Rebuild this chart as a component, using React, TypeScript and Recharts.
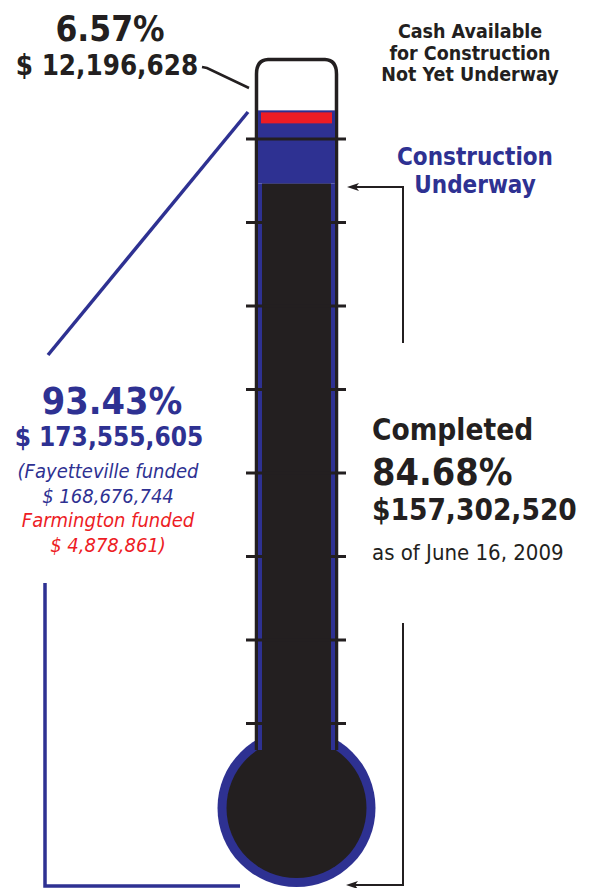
import React from "react";
import { BarChart, Bar, XAxis, YAxis, ReferenceLine, Customized } from "recharts";

// shares of total project money (percent)
const segments = ["completed", "underway", "available"];
const shares = [84.68, 8.75, 6.57];
const scaleTicks = [20, 30, 40, 50, 60, 70, 80, 90];

const availableLabel = ["6.57%", "$ 12,196,628"];
const availableNote = ["Cash Available", "for Construction", "Not Yet Underway"];
const underwayNote = ["Construction", "Underway"];
const fundedLabel = ["93.43%", "$ 173,555,605"];
const fundedDetail = ["(Fayetteville funded", "$ 168,676,744", "Farmington funded", "$ 4,878,861)"];
const completedLabel = ["Completed", "84.68%", "$157,302,520", "as of June 16, 2009"];

const data = [
  {
    name: "Fund",
    [segments[0]]: shares[0],
    [segments[1]]: shares[1],
    [segments[2]]: shares[2],
  },
];

const BLUE = "#2e3192";
const INK = "#231f20";
const RED = "#ed1c24";
const FONT = "'DejaVu Sans Condensed', 'DejaVu Sans', sans-serif";

// tube / bulb geometry
const CX = 296.5;
const TUBE_L = 256.5;
const TUBE_R = 336.5;
const NECK = 750;
const BULB_CY = 808;
const BULB_R = 79;
const BULB_IN = 70;

function CompletedShape(props: any) {
  const { x, y, width } = props;
  const h = NECK - y;
  return (
    <g>
      <rect x={x} y={y} width={width} height={h} fill={BLUE} />
      <rect x={x + 4} y={y} width={width - 8} height={h + 10} fill={INK} />
    </g>
  );
}

function UnderwayShape(props: any) {
  const { x, y, width, height } = props;
  return (
    <g>
      <rect x={x} y={y} width={width} height={height} fill={BLUE} />
      <rect x={x + 3} y={y + 2} width={width - 6} height={11} fill={RED} />
    </g>
  );
}

function Arrow({ pts, tip }: { pts: string; tip: [number, number] }) {
  const [tx, ty] = tip;
  return (
    <g>
      <polyline points={pts} fill="none" stroke={INK} strokeWidth={2} />
      <polygon points={`${tx},${ty} ${tx + 12},${ty - 4} ${tx + 9},${ty} ${tx + 12},${ty + 4}`} fill={INK} />
    </g>
  );
}

function Decor() {
  return (
    <g fontFamily={FONT}>
      {/* bulb */}
      <circle cx={CX} cy={BULB_CY} r={BULB_R} fill={BLUE} />
      <circle cx={CX} cy={BULB_CY} r={BULB_IN} fill={INK} />
      {/* tube outline with rounded cap */}
      <path
        d={`M${TUBE_L},${NECK} L${TUBE_L},74 Q${TUBE_L},60 268,59.5 L325,59.5 Q${TUBE_R},60 ${TUBE_R},74 L${TUBE_R},${NECK}`}
        fill="none"
        stroke={INK}
        strokeWidth={3.5}
      />

      {/* pointer lines */}
      <polyline points="202,67 207,68 249,88" fill="none" stroke={INK} strokeWidth={2.5} />
      <line x1={248} y1={112} x2={48} y2={355} stroke={BLUE} strokeWidth={3.5} />
      <polyline points="45,583 45,886 240,886" fill="none" stroke={BLUE} strokeWidth={3.5} />
      <Arrow pts="403,343 403,187 356,187" tip={[347, 187]} />
      <Arrow pts="403,623 403,885 355,885" tip={[346, 885]} />

      {/* cash available */}
      <text x={110} y={41} textAnchor="middle" fontSize={35} fontWeight="bold" fill={INK}>
        {availableLabel[0]}
      </text>
      <text x={107} y={75} textAnchor="middle" fontSize={27.5} fontWeight="bold" fill={INK}>
        {availableLabel[1]}
      </text>
      {availableNote.map((t, i) => (
        <text key={t} x={470} y={38 + i * 21.5} textAnchor="middle" fontSize={19.5} fontWeight="bold" fill={INK}>
          {t}
        </text>
      ))}

      {/* underway */}
      {underwayNote.map((t, i) => (
        <text key={t} x={475} y={165 + i * 27.5} textAnchor="middle" fontSize={24} fontWeight="bold" fill={BLUE}>
          {t}
        </text>
      ))}

      {/* funded */}
      <text x={112} y={414} textAnchor="middle" fontSize={37.5} fontWeight="bold" fill={BLUE}>
        {fundedLabel[0]}
      </text>
      <text x={109} y={446} textAnchor="middle" fontSize={26} fontWeight="bold" fill={BLUE}>
        {fundedLabel[1]}
      </text>
      {fundedDetail.map((t, i) => (
        <text
          key={t}
          x={108}
          y={478 + i * 24.5}
          textAnchor="middle"
          fontSize={20}
          fontStyle="italic"
          fill={i < 2 ? BLUE : RED}
        >
          {t}
        </text>
      ))}

      {/* completed */}
      <text x={372} y={440} fontSize={29.5} fontWeight="bold" fill={INK}>
        {completedLabel[0]}
      </text>
      <text x={372} y={485} fontSize={37.5} fontWeight="bold" fill={INK}>
        {completedLabel[1]}
      </text>
      <text x={372} y={520} fontSize={29.5} fontWeight="bold" fill={INK}>
        {completedLabel[2]}
      </text>
      <text x={372} y={560} fontSize={22} fill={INK}>
        {completedLabel[3]}
      </text>
    </g>
  );
}

function TickMark(props: any) {
  const { y1 } = props;
  return <line x1={246} x2={346} y1={y1} y2={y1} stroke={INK} strokeWidth={3} />;
}

export default function App() {
  return (
    <div style={{ position: "fixed", left: 0, top: 0, width: 595, height: 888, overflow: "hidden", background: "#fff" }}>
      <BarChart
        width={595}
        height={895}
        data={data}
        margin={{ top: 55.5, right: 2, bottom: 4.5, left: 0 }}
        barSize={77}
      >
        <XAxis dataKey="name" hide />
        <YAxis domain={[0, 100]} hide />
        <Customized component={Decor} />
        <Bar dataKey="completed" stackId="t" shape={<CompletedShape />} isAnimationActive={false} />
        <Bar dataKey="underway" stackId="t" shape={<UnderwayShape />} isAnimationActive={false} />
        <Bar dataKey="available" stackId="t" fill="none" isAnimationActive={false} />
        {scaleTicks.map((v) => (
          <ReferenceLine key={v} y={v} shape={(p: any) => <TickMark {...p} />} />
        ))}
      </BarChart>
    </div>
  );
}
